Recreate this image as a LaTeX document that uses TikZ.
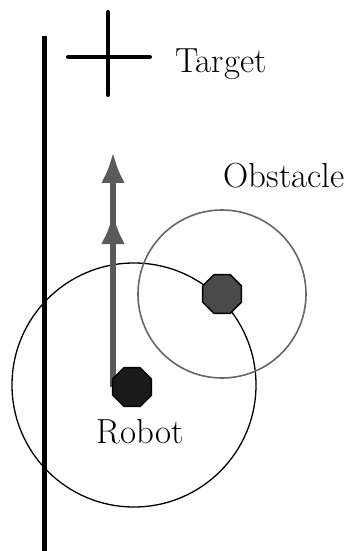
\documentclass[tikz,border=0pt]{standalone}
\usepackage{tikz}
\usetikzlibrary{arrows.meta,shapes.geometric,backgrounds}
\definecolor{vecgray}{HTML}{5A5A5A}
\definecolor{obsgray}{HTML}{4A4A4A}
\definecolor{ringgray}{HTML}{666666}
\definecolor{botblack}{HTML}{1A1A1A}

\begin{document}
\begin{tikzpicture}[x=1bp,y=-1bp,font=\fontsize{35}{40}\selectfont]
\tikzset{oct/.style={regular polygon,regular polygon sides=8,draw=black,line width=1.5bp,minimum size=42bp,inner sep=0pt}, v/.style={-{Latex[length=31bp,width=24bp]},line width=6bp,color=vecgray}, lbl/.style={inner sep=0pt}}
\useasboundingbox (0,0) rectangle (351,551);
\draw[line width=5bp] (44,36) -- (44,551);
\draw[line width=4bp,line cap=round] (68,57) -- (150,57) (108,12) -- (108,95);
\node[lbl] (target) at (221,64) {Target};
\node[lbl] (obslabel) at (284,176) {Obstacle};
\node[oct,fill=obsgray] (obs) at (222,294) {};
\node[oct,fill=botblack] (robot) at (132,387) {};
\node[lbl] (botlabel) at (140,432) {Robot};
\coordinate (tip1) at (113,152);
\coordinate (tip2) at (113,213);
\begin{scope}[on background layer]
\draw[line width=1.3bp] (134,385) circle[radius=122];
\draw[line width=1.6bp,ringgray] (obs) circle[radius=84];
\draw[v] (tip1 |- robot) -- (tip1);
\draw[v] (tip2 |- robot) -- (tip2);
\end{scope}
\end{tikzpicture}
\end{document}
